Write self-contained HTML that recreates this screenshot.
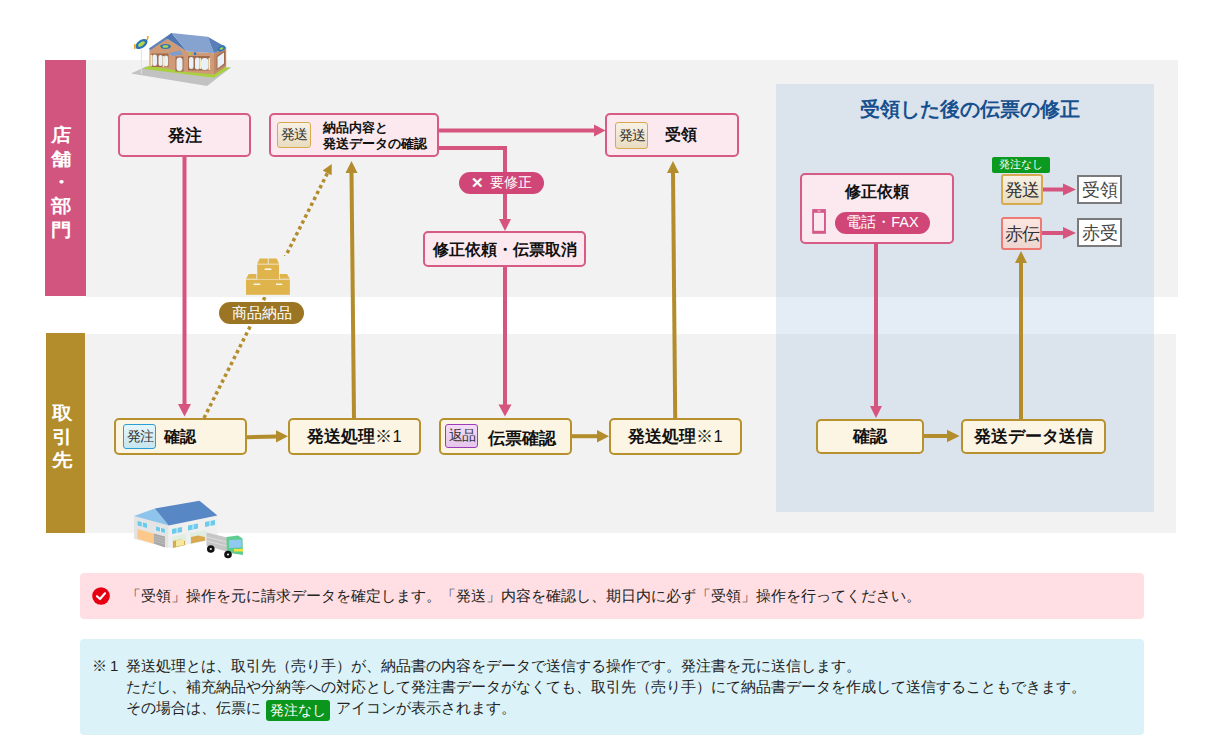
<!DOCTYPE html>
<html lang="ja"><head><meta charset="utf-8">
<style>
*{margin:0;padding:0;box-sizing:border-box}
html,body{width:1207px;height:739px;overflow:hidden;background:#fff}
body{position:relative;font-family:"Liberation Sans",sans-serif;color:#111}
.a{position:absolute}
.band-p{left:45px;top:60px;width:41px;height:236px;background:#d2557f}
.grey1{left:86px;top:60px;width:1092px;height:237px;background:#f2f2f2}
.band-g{left:46px;top:333px;width:39px;height:200px;background:#b38c2b}
.grey2{left:85px;top:334px;width:1091px;height:199px;background:#f2f2f2}
.panel{left:776px;top:84px;width:378px;height:428px;background:rgba(170,195,225,0.32)}
.vlab{color:#fff;font-weight:bold;font-size:18px;line-height:23.7px;text-align:center;width:22px;transform:scaleX(1.14)}
.pbox{border:2px solid #d65b85;background:#fbe9ef;border-radius:5px}
.gbox{border:2px solid #b8912f;background:#fcf5e4;border-radius:5px}
.bt{font-weight:bold;font-size:15px;display:flex;align-items:center;justify-content:center;white-space:nowrap}
.ico{border-radius:3px;font-size:14px;display:flex;align-items:center;justify-content:center;color:#333;letter-spacing:-1px}
.ico-s{border:1.5px solid #d6ab4f;background:linear-gradient(#f8f1e3,#e9dcc0)}
.ico-o{border:1.5px solid #2b9fd4;background:linear-gradient(#e6f6fb,#c6e6ef)}
.ico-r{border:1.5px solid #9b3bb5;background:linear-gradient(#f3dcf6,#e6c5ec)}
.pill{border-radius:12px;color:#fff;font-size:13px;display:flex;align-items:center;justify-content:center;white-space:nowrap}
.note{font-size:15px;color:#222;line-height:21px}
</style></head><body>
<div class="a band-p"></div>
<div class="a grey1"></div>
<div class="a band-g"></div>
<div class="a grey2"></div>
<div class="a panel"></div>

<div class="a vlab" style="left:50px;top:124px">店<br>舗<br>・<br>部<br>門</div>
<div class="a vlab" style="left:50.5px;top:402px">取<br>引<br>先</div>


<!-- top row boxes -->
<div class="a pbox bt" style="left:118px;top:113px;width:133px;height:44px;font-size:16.5px;padding-top:2px">発注</div>
<div class="a pbox" style="left:269px;top:113px;width:170px;height:44px">
  <div class="a ico ico-s" style="left:6px;top:7px;width:34px;height:26px">発送</div>
  <div class="a" style="left:52px;top:5px;font-weight:bold;font-size:13.4px;line-height:16px;white-space:nowrap">納品内容と<br>発送データの確認</div>
</div>
<div class="a pbox" style="left:605px;top:113px;width:134px;height:44px">
  <div class="a ico ico-s" style="left:8px;top:7px;width:33px;height:27px">発送</div>
  <div class="a bt" style="left:58px;top:10px;font-size:16px">受領</div>
</div>
<div class="a pbox bt" style="left:423px;top:231px;width:163px;height:36px;font-size:15.7px;padding-top:2px">修正依頼・伝票取消</div>

<!-- bottom row boxes -->
<div class="a gbox" style="left:114px;top:418px;width:133px;height:36.5px">
  <div class="a ico ico-o" style="left:7px;top:4px;width:33px;height:25px">発注</div>
  <div class="a bt" style="left:48px;top:7px;font-size:16px">確認</div>
</div>
<div class="a gbox bt" style="left:288px;top:418px;width:133px;height:36.5px;font-size:16.5px;padding-top:2px">発送処理<span style="font-weight:normal">※1</span></div>
<div class="a gbox" style="left:439px;top:418px;width:133px;height:36.5px">
  <div class="a ico ico-r" style="left:4px;top:4px;width:33px;height:24px">返品</div>
  <div class="a bt" style="left:47px;top:8px;font-size:16.5px">伝票確認</div>
</div>
<div class="a gbox bt" style="left:609px;top:418px;width:133px;height:36.5px;font-size:16.5px;padding-top:2px">発送処理<span style="font-weight:normal">※1</span></div>

<!-- right panel -->
<div class="a" style="left:860px;top:96px;font-weight:bold;font-size:20px;color:#17508f;white-space:nowrap">受領した後の伝票の修正</div>
<div class="a pbox" style="left:800px;top:172.5px;width:154px;height:71px">
  <div class="a bt" style="left:0;top:7px;width:150px;font-size:16px">修正依頼</div>
  <svg class="a" style="left:10px;top:34.5px" width="16" height="27"><rect x="0.2" y="0.1" width="13.7" height="24.7" fill="#d4588a"/><rect x="2" y="3.8" width="10" height="18" fill="#fbe9ef"/><rect x="5.5" y="1.3" width="3" height="1.3" fill="#f0b8cc"/></svg>
  <div class="a pill" style="left:33px;top:37px;width:95px;height:22px;background:#cf4677;font-size:14.5px">電話・FAX</div>
</div>
<div class="a" style="left:992px;top:157px;width:58px;height:16px;background:#0a9a1f;color:#fff;font-size:10.5px;border-radius:2px;display:flex;align-items:center;justify-content:center">発注なし</div>
<div class="a ico ico-s" style="left:1001px;top:174px;width:42px;height:31px;font-size:17.5px;border-width:2px">発送</div>
<div class="a ico" style="left:1001px;top:217px;width:41px;height:33px;font-size:17.5px;border:2px solid #ee7a73;background:linear-gradient(#fbe6e2,#efd6d0)">赤伝</div>
<div class="a" style="left:1077px;top:175px;width:45px;height:29px;border:2px solid #7a7a7a;background:#fff;font-size:17.5px;display:flex;align-items:center;justify-content:center;color:#444">受領</div>
<div class="a" style="left:1077px;top:218px;width:45px;height:29px;border:2px solid #7a7a7a;background:#fff;font-size:17.5px;display:flex;align-items:center;justify-content:center;color:#444">赤受</div>
<div class="a gbox bt" style="left:816px;top:419px;width:108px;height:35px;font-size:16.5px">確認</div>
<div class="a gbox bt" style="left:961px;top:419px;width:145px;height:35px;font-size:16.5px">発送データ送信</div>

<!-- arrows -->
<svg class="a" style="left:0;top:0" width="1207" height="739">
 <g stroke="#d6557f" stroke-width="4" fill="none">
  <line x1="184.5" y1="157" x2="184.5" y2="405"/>
  <line x1="439" y1="130.5" x2="596" y2="130.5"/>
  <polyline points="439,148 505,148 505,220"/>
  <line x1="505" y1="267" x2="505" y2="407"/>
  <line x1="876" y1="243" x2="876" y2="407"/>
  <line x1="1043" y1="189.5" x2="1064" y2="189.5"/>
  <line x1="1042" y1="233" x2="1064" y2="233"/>
 </g>
 <g fill="#d6557f">
  <polygon points="178,404 191,404 184.5,416.5"/>
  <polygon points="594,124.5 605.5,130.5 594,136.5"/>
  <polygon points="499,219 511,219 505,231"/>
  <polygon points="498.5,404.5 511.5,404.5 505,416.5"/>
  <polygon points="870,406 882,406 876,418"/>
  <polygon points="1063,183.5 1076,189.5 1063,195.5"/>
  <polygon points="1063,227 1076,233 1063,239"/>
 </g>
 <g stroke="#b38c2b" stroke-width="4" fill="none">
  <line x1="247" y1="437.2" x2="277" y2="436.4"/>
  <line x1="354" y1="418" x2="351.5" y2="172"/>
  <line x1="572" y1="436.2" x2="598" y2="436.2"/>
  <line x1="675.2" y1="418" x2="673" y2="172"/>
  <line x1="924" y1="436" x2="949" y2="436"/>
  <line x1="1021" y1="419" x2="1021" y2="262"/>
  <line x1="204" y1="418" x2="327.5" y2="173" stroke-width="3.5" stroke-dasharray="3.4 3.2"/>
 </g>
 <g fill="#b38c2b">
  <polygon points="276,430.3 288,436.3 276,442.5"/>
  <polygon points="345.5,173 357.5,173 351.5,161"/>
  <polygon points="597,430 609,436.2 597,442.4"/>
  <polygon points="667,173 679,173 673,161"/>
  <polygon points="947,429.8 959.5,436 947,442.2"/>
  <polygon points="1015,263 1027,263 1021,251"/>
  <polygon points="322.6,170.6 331.8,164 331.6,175.2"/>
 </g>
</svg>

<div class="a pill" style="left:459px;top:172px;width:85px;height:22px;background:#cf4677;font-size:14px"><span style="font-size:15px;font-weight:bold;margin-right:6px">✕</span>要修正</div>
<!-- boxes icon -->
<svg class="a" style="left:244px;top:256px" width="48" height="42" viewBox="244 256 48 42">
 <rect x="244" y="256" width="48" height="41" fill="#f2f2f2"/>
 <g fill="#e0b44c">
  <polygon points="259.7,258.5 267.8,258.5 267.8,263.8 257.2,263.8"/>
  <polygon points="268.6,258.5 276.7,258.5 279,263.8 268.6,263.8"/>
  <rect x="257.2" y="264.5" width="21.8" height="14.7"/>
  <polygon points="248.7,273.9 256.4,273.9 256.4,278.8 246,278.8"/>
  <polygon points="279.8,273.9 287,273.9 289.9,278.8 279.8,278.8"/>
  <rect x="246" y="279.6" width="43.9" height="15.2"/>
 </g>
 <g fill="#fff">
  <rect x="264.6" y="268.5" width="6.7" height="1.4"/>
  <rect x="253.6" y="283.6" width="6.7" height="1.3"/>
  <rect x="276" y="283.6" width="6.2" height="1.3"/>
 </g>
</svg>
<div class="a pill" style="left:219px;top:302px;width:85px;height:22px;background:#9b7523;font-size:14.5px">商品納品</div>


<!-- store -->
<svg class="a" style="left:128px;top:30px" width="106" height="60" viewBox="128 30 106 60">
 <polygon points="131,73.5 146,66.5 231,67.5 207,86" fill="#c2c2c2"/>
 <polygon points="142.4,68.8 150,65.6 230.5,67.4 214,77.8" fill="#a9d13e"/>
 <polygon points="149.4,48.9 165.6,37.8 187.2,51.6 214,53.2 214,74.5 186.5,72.1 149.4,65.8" fill="#cf9a78"/>
 <polygon points="214,53.2 226.2,47.3 226.2,66.6 214,74.5" fill="#c08a68"/>
 <polygon points="148.8,48.6 171.5,33.1 173,35 150.5,50" fill="#5f84bd"/>
 <polygon points="165.6,37.8 171.5,33.1 187.2,51.6" fill="#5277b0"/>
 <polygon points="171.5,33.1 207.7,36.7 214,53.2 187.2,51.6" fill="#86a3d0"/>
 <polygon points="207.7,36.7 226.2,47.3 214,53.2" fill="#5a7fb8"/>
 <polygon points="169,53 180,50.5 183,54.5 172,56" fill="#7e9ccc"/>
 <g fill="#a26a4c">
  <rect x="151.5" y="53.5" width="17" height="13.5"/>
  <rect x="175.5" y="56.5" width="8" height="15"/>
  <rect x="188" y="56" width="21.5" height="14.5"/>
  <polygon points="216.5,56 225,50.5 225,64.5 216.5,70"/>
 </g>
 <g fill="#e8f0f8">
  <rect x="152.5" y="54.5" width="4.5" height="11.5" rx="2.2"/>
  <rect x="158.5" y="55" width="4" height="11" rx="2"/>
  <rect x="164" y="55.5" width="4" height="11" rx="2"/>
  <rect x="176.5" y="57.5" width="6" height="13.5" rx="3"/>
  <rect x="189" y="57" width="4.5" height="12" rx="2.2"/>
  <rect x="195" y="57.5" width="4.5" height="12" rx="2.2"/>
  <rect x="201" y="58" width="7.5" height="12" rx="3.5"/>
  <polygon points="217.5,57 224,52.5 224,63.5 217.5,68.5"/>
 </g>
 <g fill="#f3ecc0"><rect x="150.5" y="55" width="1.8" height="11"/><rect x="162.6" y="56" width="1.6" height="11"/><rect x="199.5" y="58" width="1.6" height="11"/><rect x="208.5" y="58" width="1.6" height="12"/></g>
 <ellipse cx="165.5" cy="46.5" rx="5.5" ry="2.6" fill="#2a77b8"/>
 <ellipse cx="165.5" cy="46.5" rx="3" ry="1.2" fill="#b5d84a"/>
 <path d="M159,45 q0,2 2,3 M171,44 q2,1 0,4" stroke="#f0a020" stroke-width="1.2" fill="none"/>
 <ellipse cx="141.5" cy="44" rx="6.8" ry="4" fill="#2a77b8" transform="rotate(-35 141.5 44)"/>
 <ellipse cx="141.5" cy="44" rx="3.8" ry="1.8" fill="#b5d84a" transform="rotate(-35 141.5 44)"/>
 <path d="M135,49 q-1,-3 0,-5 M147,40 q1,-2 1,-4" stroke="#f0a020" stroke-width="1.5" fill="none"/>
 <ellipse cx="221.5" cy="48.5" rx="4" ry="2.6" fill="#2a77b8" transform="rotate(-28 221.5 48.5)"/>
 <ellipse cx="221.5" cy="48.5" rx="2" ry="1" fill="#b5d84a" transform="rotate(-28 221.5 48.5)"/>
 <rect x="194" y="52.5" width="2.2" height="2.5" fill="#2a70b8"/>
 <rect x="189" y="52.5" width="2" height="2.5" fill="#a6cf3a"/>
 <line x1="141.4" y1="50" x2="141.4" y2="74" stroke="#e0e0e0" stroke-width="1"/>
</svg>
<!-- warehouse -->
<svg class="a" style="left:130px;top:496px" width="120" height="66" viewBox="130 496 120 66">
 <polygon points="134,516 168.7,525.4 168.7,548 134,538.7" fill="#e4e4e4"/>
 <polygon points="168.7,525.4 217.4,515.5 217.4,538.7 168.7,548" fill="#efefef"/>
 <polygon points="134,516 154.8,508.6 168.7,525.4" fill="#8ec4ec"/>
 <polygon points="154.8,508.6 199.5,500.7 217.4,515.5 168.7,525.4" fill="#5887c6"/>
 <polygon points="137.4,529 153,533.5 153,543.5 137.4,538.7" fill="#fdc98a"/>
 <polygon points="153.6,533.5 165,536.4 165,547.5 153.6,543.5" fill="#a9a9a9"/>
 <g stroke="#c8c8c8" stroke-width="0.6"><line x1="154" y1="536" x2="165" y2="539"/><line x1="154" y1="538.5" x2="165" y2="541.5"/><line x1="154" y1="541" x2="165" y2="544"/></g>
 <g fill="#6ccbeb">
  <polygon points="137.6,521 147,523.5 147,528 137.6,525.5"/>
  <polygon points="156,526.5 165,529 165,533 156,530.5"/>
  <polygon points="172,529 182,527 182,532 172,534"/>
  <polygon points="188,525.5 198,523.5 198,528.5 188,530.5"/>
  <polygon points="205,522 215,520 215,525 205,527"/>
 </g>
 <g stroke="#fff" stroke-width="0.8">
  <line x1="142.3" y1="522" x2="142.3" y2="527"/><line x1="160.5" y1="527.5" x2="160.5" y2="532"/>
  <line x1="177" y1="528" x2="177" y2="533"/><line x1="193" y1="524.5" x2="193" y2="529.5"/><line x1="210" y1="521" x2="210" y2="526"/>
 </g>
 <polygon points="172,537 186,534 186,545 172,548" fill="#dfeee0"/>
 <polygon points="190,533 206,530 206,541 190,544" fill="#dfeee0"/>
 <polygon points="173,541 180,539.5 185,541 185,545 173,548" fill="#d9a850"/>
 <polygon points="191,537 198,535.5 205,537 205,540.5 191,543.5" fill="#d9a850"/>
 <polygon points="176,540.5 184,539 184,545 176,546.5" fill="#f3e9a0"/>
 <polygon points="206.5,532.5 227,537.5 227,551.5 206.5,546" fill="#c6c6c6"/>
 <g stroke="#e8e8e8" stroke-width="0.7"><line x1="207" y1="537" x2="226.5" y2="542"/><line x1="207" y1="541" x2="226.5" y2="546"/></g>
 <polygon points="226.5,537 238,535.5 242.5,538.5 243,555 227,552.5" fill="#5ccc8f"/>
 <polygon points="229,540 241.5,539.5 241.5,547.5 229,548" fill="#8fc8f0"/>
 <rect x="234" y="549" width="9" height="2.5" fill="#f3e33a"/>
 <circle cx="210.8" cy="549" r="3.8" fill="#111"/><circle cx="210.8" cy="549" r="1.1" fill="#eee"/>
 <circle cx="228" cy="554.5" r="3.8" fill="#111"/><circle cx="228" cy="554.5" r="1.1" fill="#eee"/>
</svg>
<!-- notes -->
<div class="a" style="left:80px;top:573px;width:1064px;height:46px;background:#ffdfe3;border-radius:4px"></div>
<svg class="a" style="left:92px;top:587px" width="18" height="18"><circle cx="9" cy="9" r="8.8" fill="#e60012"/><polyline points="5,9.3 8,12 13,6.3" fill="none" stroke="#fff" stroke-width="2.2" stroke-linecap="round" stroke-linejoin="round"/></svg>
<div class="a note" style="left:126px;top:585px;white-space:nowrap">「受領」操作を元に請求データを確定します。「発送」内容を確認し、期日内に必ず「受領」操作を行ってください。</div>
<div class="a" style="left:80px;top:639px;width:1064px;height:96px;background:#dbf3f8;border-radius:4px"></div>
<div class="a note" style="left:92px;top:655px">※</div><div class="a note" style="left:110px;top:655px">1</div><div class="a note" style="left:126px;top:655px;white-space:nowrap">発送処理とは、取引先（売り手）が、納品書の内容をデータで送信する操作です。発注書を元に送信します。</div>
<div class="a note" style="left:126px;top:676px;white-space:nowrap">ただし、補充納品や分納等への対応として発注書データがなくても、取引先（売り手）にて納品書データを作成して送信することもできます。</div>
<div class="a note" style="left:126px;top:697px;white-space:nowrap">その場合は、伝票に <span style="display:inline-block;vertical-align:top;margin:3px 2px 0 1px;width:64px;height:21px;line-height:21px;text-align:center;background:#0a961c;color:#fff;font-size:14px;border-radius:3px">発注なし</span> アイコンが表示されます。</div>
</body></html>
